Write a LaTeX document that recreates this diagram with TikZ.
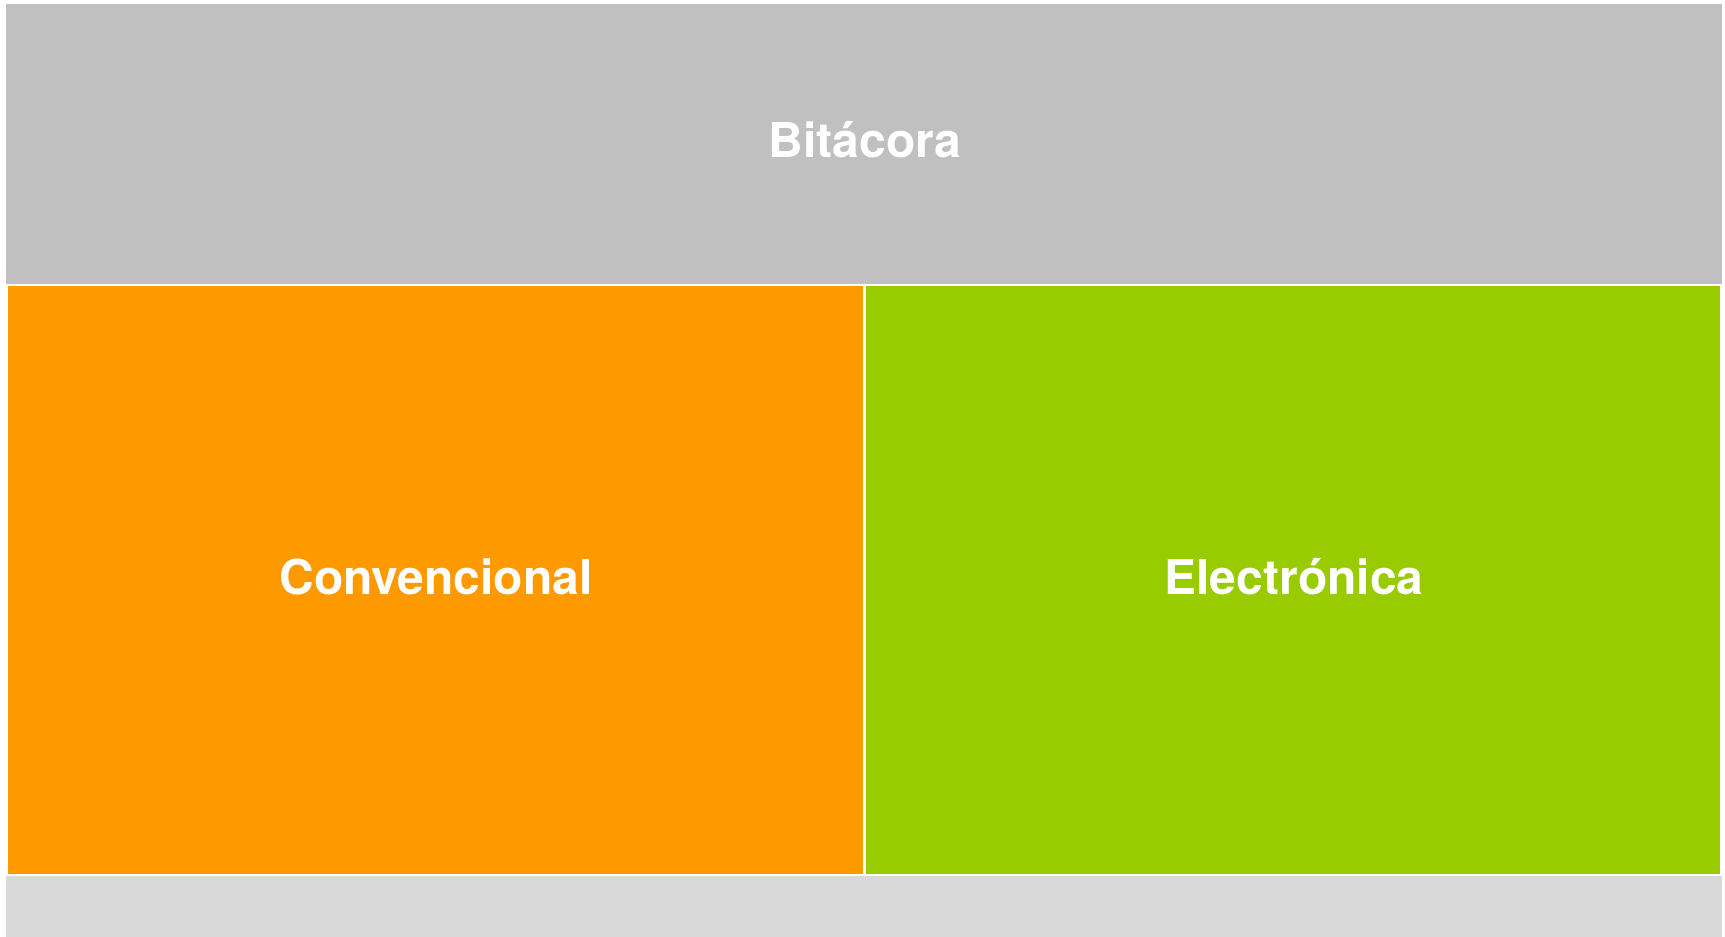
\documentclass[tikz,border=0pt]{standalone}
\usepackage{fontspec}
\setmainfont{TeX Gyre Heros}
\definecolor{topgrey}{HTML}{C0C0C0}
\definecolor{botgrey}{HTML}{D9D9D9}
\definecolor{orangec}{HTML}{FF9900}
\definecolor{greenc}{HTML}{99CC00}
\tikzset{
  panel/.style={draw=white, line width=1.2pt, anchor=north west, inner sep=0pt, outer sep=0pt},
  lbl/.style={text=white, font=\bfseries\fontsize{48}{58}\selectfont}
}
\begin{document}
\begin{tikzpicture}[x=1pt,y=-1pt]
\useasboundingbox (0,0) rectangle (1725,937);
\fill[white] (0,0) rectangle (1725,937);
\fill[topgrey] (6,4) rectangle (1722,284);
\fill[botgrey] (6,876) rectangle (1722,937);
\draw[panel, fill=orangec] (7.5,285.5) rectangle (863.5,875);
\draw[panel, fill=greenc] (865.5,285.5) rectangle (1721,875);
\node[lbl] (bit) at (865,140) {Bitácora};
\node[lbl] (conv) at (436,577) {Convencional};
\node[lbl] (elec) at (1294,577) {Electrónica};
\end{tikzpicture}
\end{document}
